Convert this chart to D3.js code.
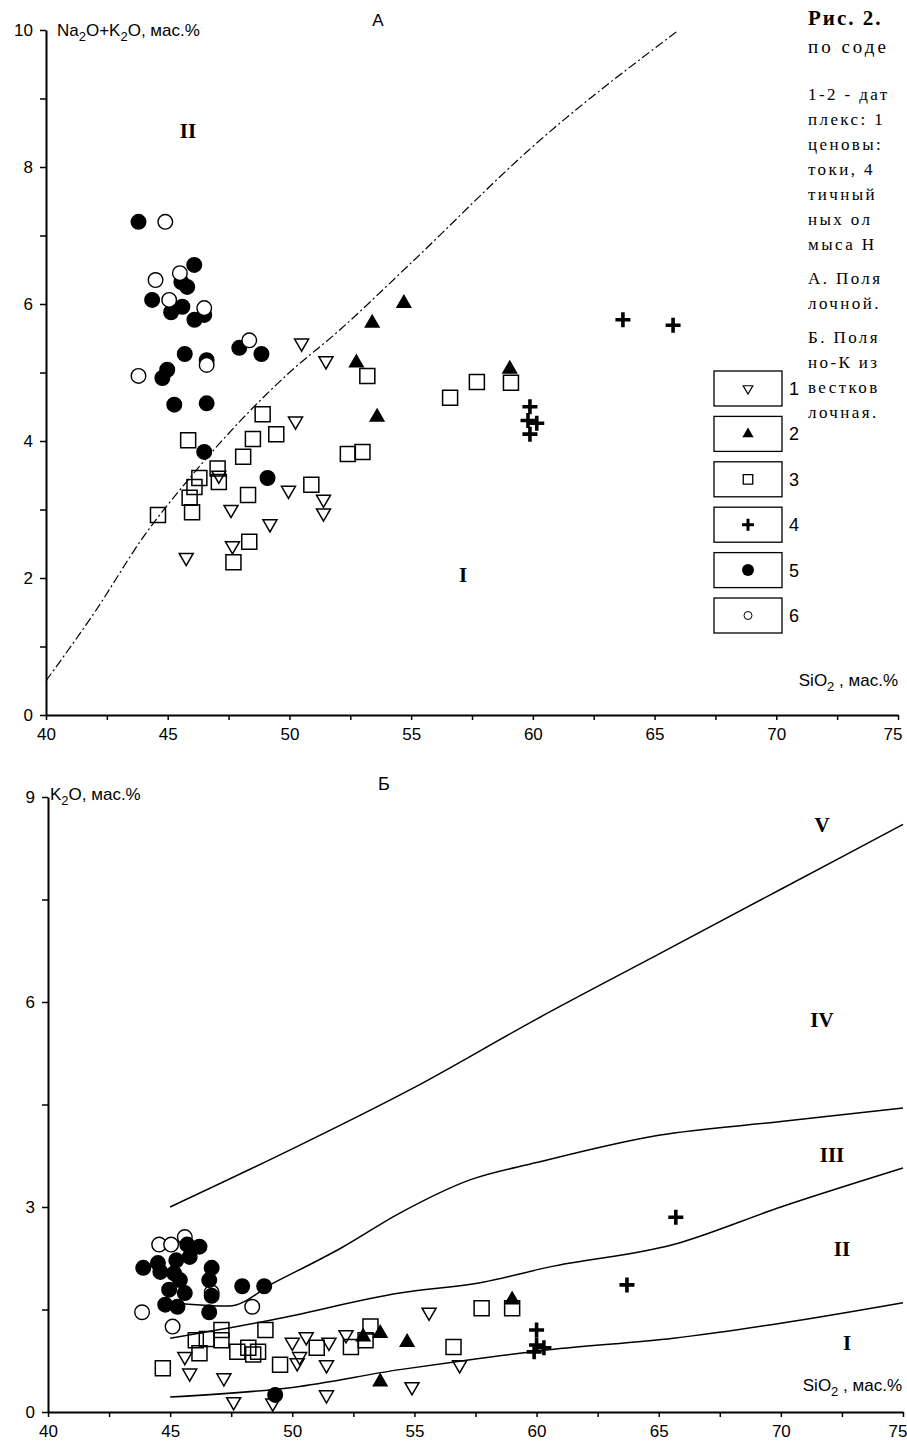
<!DOCTYPE html>
<html>
<head>
<meta charset="utf-8">
<script src="https://cdn.jsdelivr.net/npm/d3@7"></script>
<style>
  body { margin: 0; background: #fff; }
  text { font-family: "Liberation Sans", Arial, sans-serif; fill: #000; }
  .serif { font-family: "Liberation Serif", "Times New Roman", serif; }
</style>
</head>
<body>
<div id="chart-area"></div>
<script>
// ---- data: chart A (Na2O+K2O vs SiO2) ----
const sio2Ticks = d3.range(40, 75.1, 2.5);
const aTicksY = d3.range(0, 10.1, 1);

const aBoundary = [[40, 0.5], [42, 1.5], [44, 2.6], [46, 3.5], [48, 4.3], [50, 5.0], [52, 5.6], [55, 6.6], [60, 8.3], [66, 10]];

const aOpenTri = [[50.5, 5.43], [51.5, 5.17], [50.25, 4.29], [47.1, 3.5], [49.96, 3.28], [51.4, 3.15], [51.4, 2.95],
  [47.6, 3.0], [49.2, 2.79], [47.66, 2.47], [45.76, 2.3]];
const aFillTri = [[54.7, 6.01], [53.4, 5.72], [52.75, 5.14], [53.6, 4.35], [59.05, 5.05]];
const aSquare = [[53.2, 4.95], [56.6, 4.63], [57.7, 4.86], [59.1, 4.85], [52.4, 3.81], [53.0, 3.84], [50.9, 3.36],
  [48.9, 4.39], [49.46, 4.1], [48.5, 4.03], [45.84, 4.01], [48.1, 3.77], [47.05, 3.6], [47.1, 3.4], [46.3, 3.46],
  [46.1, 3.33], [46.0, 2.96], [45.9, 3.17], [48.3, 3.21], [44.6, 2.92], [48.35, 2.53], [47.7, 2.23]];
const aCross = [[63.7, 5.77], [65.76, 5.69], [59.88, 4.5], [59.88, 4.1], [60.16, 4.26], [59.8, 4.3]];
const aDot = [[43.8, 7.2], [46.09, 6.57], [45.56, 6.32], [45.8, 6.25], [44.36, 6.06], [45.14, 5.88], [45.6, 5.96],
  [46.1, 5.77], [46.5, 5.84], [47.94, 5.36], [48.85, 5.27], [45.7, 5.27], [46.6, 5.18], [44.98, 5.04], [44.78, 4.92],
  [45.27, 4.53], [46.6, 4.55], [46.5, 3.84], [49.1, 3.46]];
const aRing = [[44.9, 7.2], [44.5, 6.35], [45.06, 6.06], [46.5, 5.94], [48.35, 5.47], [43.8, 4.95], [46.6, 5.11], [45.5, 6.45]];

// ---- data: chart B (K2O vs SiO2) ----
const bTicksY = d3.range(0, 9.1, 1.5);

const bLine1 = [[45, 0.22], [50, 0.36], [54.4, 0.62], [57, 0.75], [60.5, 0.91], [65.6, 1.08], [70, 1.3], [75, 1.6]];
const bLine2 = [[45, 1.08], [49.2, 1.35], [54.4, 1.74], [57.8, 1.9], [60.5, 2.12], [65.6, 2.45], [70, 3.0], [75, 3.57]];
const bLine3 = [[45, 1.6], [47.4, 1.55], [49.3, 1.9], [52, 2.4], [54.4, 2.91], [57.3, 3.4], [60, 3.65], [65, 4.05], [70, 4.25], [75, 4.45]];
const bLine4 = [[45, 3.0], [50, 3.85], [55, 4.75], [60, 5.75], [65, 6.7], [70, 7.65], [75, 8.6]];

const bOpenTri = [[45.6, 0.81], [45.8, 0.57], [47.2, 0.5], [47.6, 0.15], [50.0, 1.02], [50.57, 1.1], [50.3, 0.81],
  [50.2, 0.72], [51.5, 1.02], [51.4, 0.69], [52.2, 1.13], [51.4, 0.25], [49.2, 0.13], [55.6, 1.46], [54.9, 0.37], [56.85, 0.69]];
const bFillTri = [[52.9, 1.1], [53.6, 1.15], [54.7, 1.02], [53.6, 0.44], [59.0, 1.64]];
const bSquare = [[44.7, 0.64], [46.05, 1.05], [46.2, 0.86], [46.5, 1.07], [47.1, 1.2], [47.1, 1.05], [47.75, 0.88],
  [48.2, 0.94], [48.4, 0.84], [48.6, 0.88], [48.9, 1.2], [49.5, 0.69], [51.0, 0.94], [52.4, 0.95], [53.0, 1.05],
  [53.2, 1.25], [57.75, 1.52], [59.0, 1.52], [56.6, 0.95]];
const bCross = [[63.7, 1.86], [65.7, 2.85], [60.0, 1.2], [60.0, 0.98], [60.3, 0.94], [59.9, 0.88]];
const bDot = [[43.9, 2.11], [44.5, 2.18], [45.25, 2.22], [46.2, 2.42], [45.7, 2.45], [46.7, 2.11], [44.6, 2.05],
  [45.4, 1.93], [46.6, 1.93], [44.96, 1.79], [45.6, 1.74], [44.8, 1.57], [45.3, 1.54], [46.6, 1.46], [46.7, 1.7],
  [47.95, 1.84], [48.85, 1.84], [45.8, 2.27], [45.16, 2.03], [49.3, 0.25]];
const bRing = [[45.6, 2.56], [44.55, 2.45], [45.04, 2.45], [43.85, 1.46], [48.36, 1.54], [45.1, 1.25], [46.7, 1.75]];

// legend + caption
const legendLabels = ['1', '2', '3', '4', '5', '6'];
const captionLines = ['1-2 - дат', 'плекс: 1', 'ценовы:', 'токи, 4', 'тичный', 'ных ол', 'мыса Н',
  'А. Поля', 'лочной.', 'Б. Поля', 'но-К из', 'вестков', 'лочная.'];

const svg = d3.select('#chart-area')
  .append('svg')
  .attr('width', 907)
  .attr('height', 1447)
  .style('background', '#fff');

let xA = d3.scaleLinear().domain([40, 75]).range([46, 898]);
let yA = d3.scaleLinear().domain([0, 10]).range([715, 30]);
let xB = d3.scaleLinear().domain([40, 75]).range([48, 903]);
let yB = d3.scaleLinear().domain([0, 9]).range([1412, 797]);

const triDown = d3.symbol(d3.symbolTriangle, 85)();
const triUp = d3.symbol(d3.symbolTriangle, 80)();
const sq = d3.symbol(d3.symbolSquare, 225)();
const plus = 'M-7.5,0H7.5M0,-7.5V7.5';

function axes(x, y, yTicks, yStep) {
  let gx = svg.append('g')
    .attr('transform', `translate(0, ${y(0)})`)
    .call(d3.axisBottom(x).tickValues(sio2Ticks).tickFormat(d => d % 5 ? '' : d)
      .tickSize(5).tickPadding(8).tickSizeOuter(0));
  let gy = svg.append('g')
    .attr('transform', `translate(${x(40)}, 0)`)
    .call(d3.axisLeft(y).tickValues(yTicks).tickFormat(d => d % yStep ? '' : d)
      .tickSize(6).tickPadding(7).tickSizeOuter(0));
  [gx, gy].forEach(g => {
    g.select('.domain').attr('stroke-width', 2);
    g.selectAll('.tick line').attr('stroke-width', 1.5);
    g.selectAll('.tick text').style('font-size', '17px').attr('font-family', '"Liberation Sans", Arial, sans-serif');
  });
  // last label sits at the page edge
  gx.selectAll('.tick text').filter(d => d === 75).attr('text-anchor', 'end').attr('dx', 4);
}

function points(x, y, data, kind) {
  let g = svg.append('g');
  let sel = g.selectAll('.m').data(data).join(kind === 'dot' || kind === 'ring' ? 'circle' : 'path');
  if (kind === 'dot' || kind === 'ring') {
    sel.attr('cx', d => x(d[0])).attr('cy', d => y(d[1])).attr('r', 7.3)
      .attr('fill', kind === 'dot' ? '#000' : '#fff')
      .attr('stroke', '#000').attr('stroke-width', 1.4);
  } else {
    let shape = { tri: triDown, fillTri: triUp, square: sq, cross: plus }[kind];
    sel.attr('d', shape)
      .attr('transform', d => `translate(${x(d[0])}, ${y(d[1])})` + (kind === 'tri' ? ' rotate(180)' : ''))
      .attr('fill', kind === 'fillTri' ? '#000' : 'none')
      .attr('stroke', '#000')
      .attr('stroke-width', kind === 'cross' ? 3.6 : 1.5);
  }
}

function sub(t, parts, size) {
  parts.forEach(p => {
    if (p.sub) t.append('tspan').attr('dy', 5).style('font-size', (size - 4) + 'px').text(p.s);
    else t.append('tspan').attr('dy', p.back ? -5 : 0).text(p.s);
  });
}

// ---------- chart A ----------
axes(xA, yA, aTicksY, 2);

svg.append('path')
  .datum(aBoundary)
  .attr('d', d3.line().x(d => xA(d[0])).y(d => yA(d[1])).curve(d3.curveMonotoneX))
  .attr('fill', 'none').attr('stroke', '#000').attr('stroke-width', 1.2)
  .attr('stroke-dasharray', '9,3,2,3');

points(xA, yA, aSquare, 'square');
points(xA, yA, aOpenTri, 'tri');
points(xA, yA, aFillTri, 'fillTri');
points(xA, yA, aCross, 'cross');
points(xA, yA, aDot, 'dot');
points(xA, yA, aRing, 'ring');

let ta = svg.append('text').attr('x', 57).attr('y', 36).style('font-size', '17px');
sub(ta, [{ s: 'Na' }, { s: '2', sub: true }, { s: 'O+K', back: true }, { s: '2', sub: true }, { s: 'O, мас.%', back: true }], 17);
svg.append('text').attr('x', 378).attr('y', 26).attr('text-anchor', 'middle').style('font-size', '17px').text('А');
let sa = svg.append('text').attr('x', 898).attr('y', 686).attr('text-anchor', 'end').style('font-size', '17px');
sub(sa, [{ s: 'SiO' }, { s: '2', sub: true }, { s: ' , мас.%', back: true }], 17);

svg.append('text').attr('class', 'serif').attr('x', 188).attr('y', 138).attr('text-anchor', 'middle')
  .style('font-size', '21px').style('font-weight', 'bold').text('II');
svg.append('text').attr('class', 'serif').attr('x', 463).attr('y', 582).attr('text-anchor', 'middle')
  .style('font-size', '21px').style('font-weight', 'bold').text('I');

// legend
let legend = svg.append('g');
legendLabels.forEach((lab, i) => {
  let top = 371 + i * 45.4;
  legend.append('rect').attr('x', 714).attr('y', top).attr('width', 68).attr('height', 35)
    .attr('fill', 'none').attr('stroke', '#000').attr('stroke-width', 1.3);
  legend.append('text').attr('x', 789).attr('y', top + 24).style('font-size', '18px').text(lab);
  let cx = 748, cy = top + 17.5;
  if (i === 0) legend.append('path').attr('d', d3.symbol(d3.symbolTriangle, 40)()).attr('transform', `translate(${cx},${cy}) rotate(180)`).attr('fill', 'none').attr('stroke', '#000').attr('stroke-width', 1.2);
  if (i === 1) legend.append('path').attr('d', d3.symbol(d3.symbolTriangle, 55)()).attr('transform', `translate(${cx},${cy})`);
  if (i === 2) legend.append('path').attr('d', d3.symbol(d3.symbolSquare, 90)()).attr('transform', `translate(${cx},${cy})`).attr('fill', 'none').attr('stroke', '#000').attr('stroke-width', 1.3);
  if (i === 3) legend.append('path').attr('d', 'M-6,0H6M0,-6V6').attr('transform', `translate(${cx},${cy})`).attr('stroke', '#000').attr('stroke-width', 3);
  if (i === 4) legend.append('circle').attr('cx', cx).attr('cy', cy).attr('r', 6);
  if (i === 5) legend.append('circle').attr('cx', cx).attr('cy', cy).attr('r', 4).attr('fill', 'none').attr('stroke', '#000').attr('stroke-width', 1);
});

// caption (cut at the right edge)
svg.append('text').attr('class', 'serif').attr('x', 808).attr('y', 25)
  .style('font-size', '21px').style('font-weight', 'bold').style('letter-spacing', '2px').text('Рис. 2.');
svg.append('text').attr('class', 'serif').attr('x', 808).attr('y', 53)
  .style('font-size', '19px').style('letter-spacing', '3px').text('по соде');
let capY = [100, 125, 150, 175, 200, 225, 250, 284, 309, 343, 368, 393, 418];
captionLines.forEach((s, i) => {
  svg.append('text').attr('class', 'serif').attr('x', 808).attr('y', capY[i])
    .style('font-size', '17px').style('letter-spacing', '2.4px').text(s);
});

// ---------- chart B ----------
axes(xB, yB, bTicksY, 3);

[bLine1, bLine2, bLine3, bLine4].forEach(l => {
  svg.append('path')
    .datum(l)
    .attr('d', d3.line().x(d => xB(d[0])).y(d => yB(d[1])).curve(d3.curveMonotoneX))
    .attr('fill', 'none').attr('stroke', '#000').attr('stroke-width', 1.5);
});

points(xB, yB, bSquare, 'square');
points(xB, yB, bOpenTri, 'tri');
points(xB, yB, bFillTri, 'fillTri');
points(xB, yB, bCross, 'cross');
points(xB, yB, bRing, 'ring');
points(xB, yB, bDot, 'dot');

let tb = svg.append('text').attr('x', 50).attr('y', 800).style('font-size', '17px');
sub(tb, [{ s: 'K' }, { s: '2', sub: true }, { s: 'O, мас.%', back: true }], 17);
svg.append('text').attr('x', 384).attr('y', 790).attr('text-anchor', 'middle').style('font-size', '18px').text('Б');
let sb = svg.append('text').attr('x', 902).attr('y', 1391).attr('text-anchor', 'end').style('font-size', '17px');
sub(sb, [{ s: 'SiO' }, { s: '2', sub: true }, { s: ' , мас.%', back: true }], 17);

[['V', 822, 832], ['IV', 822, 1027], ['III', 832, 1162], ['II', 842, 1256], ['I', 847, 1350]].forEach(r => {
  svg.append('text').attr('class', 'serif').attr('x', r[1]).attr('y', r[2]).attr('text-anchor', 'middle')
    .style('font-size', '21px').style('font-weight', 'bold').text(r[0]);
});
</script>
</body>
</html>
